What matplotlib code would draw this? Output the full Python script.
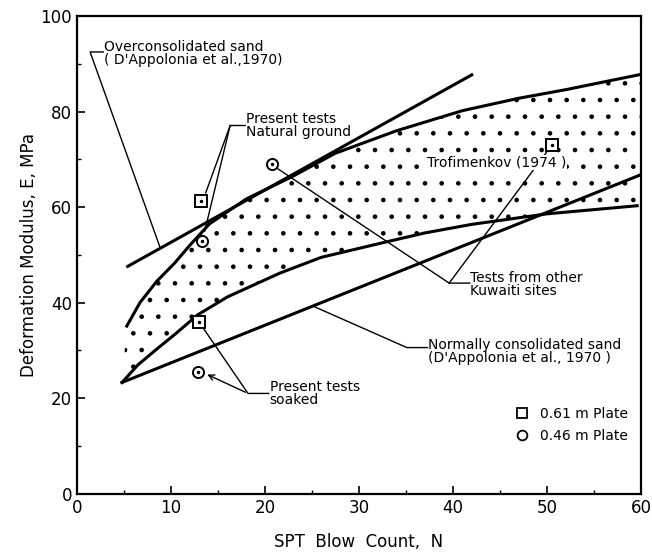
import numpy as np
import matplotlib
matplotlib.use('Agg')
import matplotlib.pyplot as plt
from matplotlib.lines import Line2D

plt.rcParams['font.family'] = ['DejaVu Sans']
plt.rcParams['hatch.linewidth'] = 0.9

# Trofimenkov (1974) band, upper and lower limits
upper_n = [5.3, 6.7, 8.5, 10.4, 12.0, 14.1, 18.0, 23.0, 27.5, 34.0, 41.0, 47.0, 52.0, 60.0]
upper_e = [35.1, 40.0, 44.5, 48.3, 52.0, 56.5, 61.7, 66.5, 71.3, 76.0, 80.2, 82.8, 84.6, 87.8]
lower_n = [4.8, 6.5, 8.5, 10.5, 12.8, 16.0, 21.6, 26.0, 32.2, 37.0, 42.0, 50.0, 59.6]
lower_e = [23.3, 27.0, 30.3, 33.5, 37.4, 41.2, 46.2, 49.5, 52.4, 54.6, 56.4, 58.6, 60.3]

# D'Appolonia et al. (1970) straight lines
oc_n = [5.4, 42.0]
oc_e = [47.6, 87.7]
nc_n = [4.8, 60.0]
nc_e = [23.3, 66.8]

# test points
natural_n = [13.2, 13.3]
natural_e = [61.3, 53.0]
soaked_n = [13.0, 12.9]
soaked_e = [36.0, 25.4]
kuwait_n = [50.5, 20.7]
kuwait_e = [73.0, 69.0]
plate = ['sq', 'ci']

fig = plt.figure(figsize=(6.52, 5.56), dpi=100)
ax = fig.add_axes([0.118, 0.112, 0.865, 0.859])

# stippled band
band_n = np.concatenate([upper_n, lower_n[::-1]])
band_e = np.concatenate([upper_e, lower_e[::-1]])
ax.fill(band_n, band_e, facecolor='none', edgecolor='black', hatch='.', linewidth=0)

ax.plot(upper_n, upper_e, color='black', lw=2.2)
ax.plot(lower_n, lower_e, color='black', lw=2.2)
ax.plot(oc_n, oc_e, color='black', lw=2.2)
ax.plot(nc_n, nc_e, color='black', lw=2.2)


def pts(ns, es):
    for n, e, p in zip(ns, es, plate):
        m = 's' if p == 'sq' else 'o'
        ax.plot(n, e, marker=m, ms=8, mfc='white', mec='black', mew=1.4, zorder=5)
        ax.plot(n, e, marker='.', ms=3, color='black', zorder=6)


pts(natural_n, natural_e)
pts(soaked_n, soaked_e)
pts(kuwait_n, kuwait_e)

lk = dict(color='black', lw=1.0)
# overconsolidated leader
ax.plot([8.8, 1.4, 2.8], [51.8, 92.5, 92.5], **lk)
ax.text(2.9, 92.2, "Overconsolidated sand\n( D'Appolonia et al.,1970)", fontsize=10,
        va='center', ha='left', linespacing=0.95)

# natural ground leader
ax.plot([13.7, 16.3, 17.9], [63.0, 77.1, 77.1], **lk)
ax.plot([13.6, 16.3], [55.0, 77.1], **lk)
ax.text(18.0, 77.1, "Present tests\nNatural ground", fontsize=10, va='center', ha='left',
        linespacing=0.95)

# soaked leader
ax.plot([13.5, 18.2, 20.4], [34.5, 21.0, 21.0], **lk)
ax.annotate('', xy=(13.6, 25.2), xytext=(18.2, 21.0),
            arrowprops=dict(arrowstyle='->', lw=1.0, color='black'))
ax.text(20.5, 21.0, "Present tests\nsoaked", fontsize=10, va='center', ha='left',
        linespacing=0.95)

# Kuwaiti sites leader
ax.plot([21.4, 39.6, 41.8], [68.0, 44.1, 44.1], **lk)
ax.plot([39.6, 50.0], [44.1, 71.6], **lk)
ax.text(41.8, 43.8, "Tests from other\nKuwaiti sites", fontsize=10, va='center', ha='left',
        linespacing=0.95)

# normally consolidated leader
ax.plot([25.1, 35.1, 37.3], [39.3, 30.6, 30.6], **lk)
ax.text(37.3, 29.8, "Normally consolidated sand\n(D'Appolonia et al., 1970 )", fontsize=10,
        va='center', ha='left', linespacing=0.95)

ax.text(37.2, 69.3, "Trofimenkov (1974 )", fontsize=10, va='center', ha='left', zorder=4,
        bbox=dict(facecolor='white', edgecolor='none', pad=0.5))

handles = [Line2D([], [], ls='none', marker='s', ms=7, mfc='white', mec='black', mew=1.3),
           Line2D([], [], ls='none', marker='o', ms=7, mfc='white', mec='black', mew=1.3)]
ax.legend(handles, ['0.61 m Plate', '0.46 m Plate'], loc='lower right',
          bbox_to_anchor=(1.0, 0.08), frameon=False, fontsize=10, handlelength=1.0,
          handletextpad=0.8, labelspacing=0.6)

ax.set_xlim(0, 60)
ax.set_ylim(0, 100)
ax.set_xticks(range(0, 61, 10))
ax.set_xticks(range(0, 61, 5), minor=True)
ax.set_yticks(range(0, 101, 20))
ax.set_yticks(range(0, 101, 10), minor=True)
ax.tick_params(axis='both', which='major', direction='in', length=6, width=1.2, labelsize=12)
ax.tick_params(axis='both', which='minor', direction='in', length=3, width=1.0)
for s in ax.spines.values():
    s.set_linewidth(1.6)

ax.set_xlabel('SPT  Blow  Count,  N', fontsize=12, labelpad=12)
ax.set_ylabel('Deformation Modulus, E, MPa', fontsize=12, labelpad=2)

fig.savefig('out.png', dpi=100)
